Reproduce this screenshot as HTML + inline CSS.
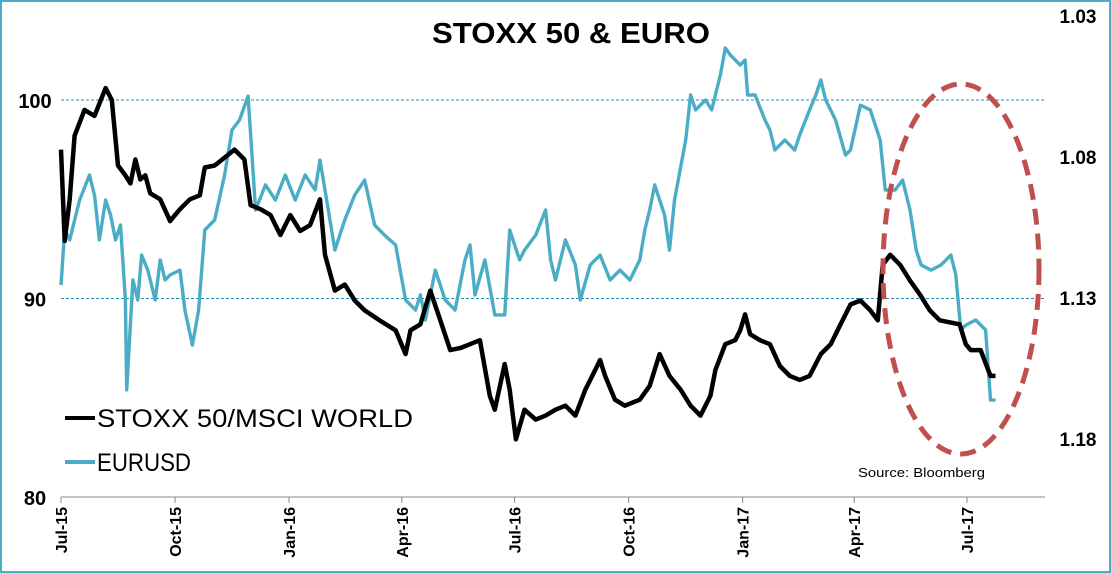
<!DOCTYPE html>
<html><head><meta charset="utf-8"><style>
html,body{margin:0;padding:0;background:#fff;}
body{width:1111px;height:573px;overflow:hidden;}
svg{display:block;font-family:"Liberation Sans",sans-serif;}
</style></head><body>
<svg id="chart" width="1111" height="573">
<rect x="1" y="1" width="1109" height="571" fill="#fff" stroke="#4bacc6" stroke-width="2"/>
<text x="432" y="43" font-size="29" font-weight="bold" fill="#000" textLength="278" lengthAdjust="spacingAndGlyphs">STOXX 50 &amp; EURO</text>
<g id="grid"></g><g id="axes"></g><g id="series"></g>
<g>
<line x1="65" y1="418" x2="95" y2="418" stroke="#000" stroke-width="4"/>
<text x="97" y="427" font-size="25" fill="#000" textLength="316" lengthAdjust="spacingAndGlyphs">STOXX 50/MSCI WORLD</text>
<line x1="65" y1="462" x2="95" y2="462" stroke="#4bacc6" stroke-width="4"/>
<text x="97" y="471" font-size="25" fill="#000" textLength="94" lengthAdjust="spacingAndGlyphs">EURUSD</text>
</g>
<text x="858" y="477" font-size="13" fill="#000" textLength="127" lengthAdjust="spacingAndGlyphs">Source:  Bloomberg</text>
<ellipse cx="961" cy="269" rx="78" ry="185" fill="none" stroke="#c0504d" stroke-width="5" stroke-dasharray="16,9"/>
</svg>
<script>
const tickLabels=["Jul-15","Oct-15","Jan-16","Apr-16","Jul-16","Oct-16","Jan-17","Apr-17","Jul-17"];
const tickDays=[0,92,184,275,366,458,550,640,731];
const leftTicks=[80,90,100];
const rightTicks=[1.03,1.08,1.13,1.18];
const stoxxDays=[0,3,7,11,19,27,36,41,46,52,56,60,64,68,72,80,88,92,96,104,112,116,124,132,140,148,153,161,169,177,185,193,201,209,213,221,229,237,245,257,270,278,282,290,298,306,314,322,330,338,346,350,358,362,367,374,383,391,399,407,415,423,431,435,439,447,455,467,475,483,491,500,508,516,524,528,536,544,548,552,556,564,572,580,588,596,604,613,621,629,637,645,653,659,663,669,677,685,693,701,709,717,725,730,734,742,750,754];
const stoxxValues=[97.5,92.9,95.0,98.2,99.5,99.2,100.6,100,96.7,96.2,95.8,97.0,96.0,96.2,95.3,95.0,93.9,94.2,94.5,95.0,95.2,96.6,96.7,97.1,97.5,97.0,94.7,94.5,94.2,93.2,94.2,93.4,93.7,95.0,92.2,90.4,90.7,89.9,89.4,88.9,88.4,87.2,88.4,88.7,90.4,88.9,87.4,87.5,87.7,87.9,85.1,84.4,86.7,85.4,82.9,84.4,83.9,84.1,84.4,84.6,84.1,85.4,86.4,86.9,86.1,84.9,84.6,84.9,85.6,87.2,86.1,85.4,84.6,84.1,85.1,86.4,87.7,87.9,88.4,89.2,88.2,87.9,87.7,86.6,86.1,85.9,86.1,87.2,87.7,88.7,89.7,89.9,89.4,88.9,91.7,92.2,91.7,90.9,90.2,89.4,88.9,88.8,88.7,87.7,87.4,87.4,86.1,86.1];
const eurDays=[0,3,7,15,23,27,31,36,40,44,48,52,53,58,62,65,70,76,80,84,88,96,100,106,111,116,124,132,138,144,151,157,165,173,181,189,197,205,209,213,221,229,237,245,253,261,270,278,286,290,294,302,310,318,326,330,334,342,350,358,362,370,374,383,391,395,399,407,415,419,427,435,443,451,459,467,471,475,479,487,491,495,504,508,512,520,525,532,536,540,548,552,554,560,568,572,576,584,592,596,604,609,613,617,625,633,637,645,653,661,665,673,679,685,690,694,702,710,718,722,726,730,738,746,750,754];
const eurValues=[1.1254,1.1059,1.1094,1.0953,1.0864,1.0935,1.1094,1.0953,1.1006,1.1094,1.1041,1.1307,1.1626,1.1236,1.1307,1.1148,1.1201,1.1307,1.1165,1.1236,1.1218,1.1201,1.1343,1.1467,1.1343,1.1059,1.1023,1.0864,1.0704,1.0669,1.0584,1.0988,1.0899,1.0953,1.0864,1.0953,1.0864,1.0917,1.0811,1.0917,1.1130,1.1023,1.0935,1.0882,1.1041,1.1077,1.1112,1.1307,1.1343,1.1289,1.1378,1.1201,1.1307,1.1343,1.1165,1.1112,1.1289,1.1165,1.1360,1.1360,1.1059,1.1165,1.1130,1.1077,1.0988,1.1165,1.1236,1.1094,1.1183,1.1307,1.1183,1.1148,1.1236,1.1201,1.1236,1.1165,1.1059,1.0988,1.0899,1.1006,1.1130,1.0953,1.0740,1.0580,1.0633,1.0598,1.0633,1.0509,1.0414,1.0438,1.0474,1.0456,1.0580,1.0580,1.0669,1.0704,1.0775,1.0740,1.0775,1.0722,1.0633,1.0580,1.0527,1.0598,1.0669,1.0793,1.0775,1.0616,1.0633,1.0740,1.0917,1.0917,1.0882,1.0988,1.1130,1.1183,1.1201,1.1183,1.1148,1.1218,1.1413,1.1396,1.1378,1.1413,1.1662,1.1662];

const NS="http://www.w3.org/2000/svg";
const X0=61,X1=967,AXR=1045;
const xOf=d=>X0+d*(X1-X0)/731;
const yL=v=>497-(v-80)*19.85;
const yR=v=>298+(v-1.13)/0.05*141;
function mk(tag,attrs,parent){const e=document.createElementNS(NS,tag);for(const k in attrs)e.setAttribute(k,attrs[k]);parent.appendChild(e);return e;}
const grid=document.getElementById('grid'),axes=document.getElementById('axes'),series=document.getElementById('series');
[90,100].forEach(v=>{
  const g=mk('line',{x1:X0,x2:AXR,y1:yL(v),y2:yL(v),stroke:'#2a8bb0','stroke-width':1,'stroke-dasharray':'3,2'},grid);
  
  
});
leftTicks.forEach(v=>{
  const t=mk('text',{x:35,y:yL(v)+8,'text-anchor':'middle','font-size':20,'font-weight':'bold'},axes);
  t.textContent=v;
  
  
});
rightTicks.forEach(v=>{
  const t=mk('text',{x:1078,y:yR(v)+7,'text-anchor':'middle','font-size':19,'font-weight':'bold'},axes);
  t.textContent=v.toFixed(2);
  
  
});
const ax=mk('line',{x1:X0,x2:AXR,y1:497,y2:497,stroke:'#888','stroke-width':1},axes);


tickLabels.forEach((lab,i)=>{
  const x=xOf(tickDays[i]);
  const tk=mk('line',{x1:x,x2:x,y1:497,y2:503,stroke:'#888'},axes);
  
  
  const t=mk('text',{x:0,y:0,'text-anchor':'end','font-size':16,'font-weight':'bold',transform:`translate(${x+6},507) rotate(-90)`},axes);
  t.textContent=lab;
  
  
});
const pb=mk('polyline',{points:eurDays.map((d,i)=>xOf(d).toFixed(1)+','+yR(eurValues[i]).toFixed(1)).join(' '),fill:'none',stroke:'#4bacc6','stroke-width':3.4,'stroke-linejoin':'round'},series);


const pk=mk('polyline',{points:stoxxDays.map((d,i)=>xOf(d).toFixed(1)+','+yL(stoxxValues[i]).toFixed(1)).join(' '),fill:'none',stroke:'#000','stroke-width':4.5,'stroke-linejoin':'round'},series);


</script>
</body></html>
